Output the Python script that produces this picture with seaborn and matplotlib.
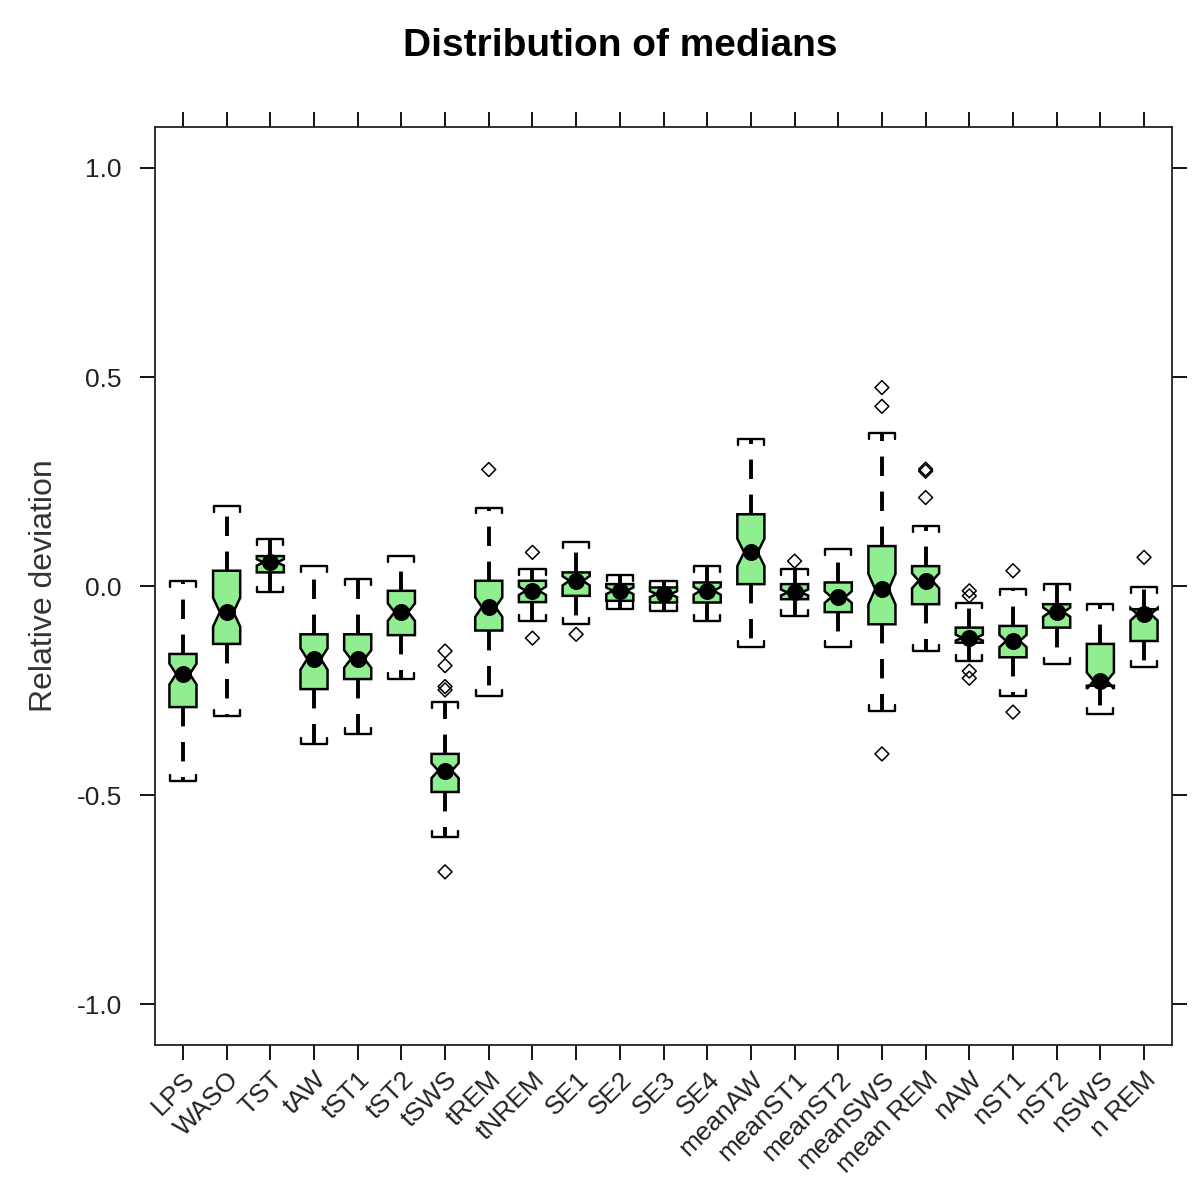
import numpy as np
import pandas as pd
import matplotlib
matplotlib.use("Agg")
import matplotlib.pyplot as plt
import seaborn as sns

# ---------------- data ----------------
categories = ["LPS", "WASO", "TST", "tAW", "tST1", "tST2", "tSWS", "tREM", "tNREM",
              "SE1", "SE2", "SE3", "SE4", "meanAW", "meanST1", "meanST2", "meanSWS",
              "mean REM", "nAW", "nST1", "nST2", "nSWS", "n REM"]

whisker_low = [-0.465, -0.310, -0.015, -0.377, -0.353, -0.222, -0.600, -0.262, -0.083,
               -0.091, -0.055, -0.059, -0.083, -0.146, -0.071, -0.146, -0.298,
               -0.154, -0.178, -0.262, -0.186, -0.305, -0.193]
q1 = [-0.289, -0.138, 0.033, -0.246, -0.222, -0.117, -0.492, -0.106, -0.038,
      -0.023, -0.035, -0.039, -0.039, 0.005, -0.031, -0.062, -0.091,
      -0.043, -0.135, -0.170, -0.099, -0.238, -0.131]
median = [-0.210, -0.062, 0.057, -0.174, -0.174, -0.062, -0.441, -0.050, -0.011,
          0.013, -0.011, -0.019, -0.011, 0.081, -0.015, -0.026, -0.007,
          0.013, -0.123, -0.131, -0.062, -0.226, -0.067]
q3 = [-0.162, 0.037, 0.072, -0.115, -0.115, -0.011, -0.401, 0.013, 0.013,
      0.033, 0.005, -0.003, 0.009, 0.172, 0.005, 0.009, 0.096,
      0.048, -0.099, -0.095, -0.043, -0.138, -0.055]
whisker_high = [0.013, 0.192, 0.112, 0.048, 0.017, 0.072, -0.277, 0.188, 0.041,
                0.105, 0.026, 0.013, 0.048, 0.351, 0.041, 0.088, 0.367,
                0.144, -0.039, -0.007, 0.005, -0.043, -0.003]

outlier_category = ["tSWS", "tSWS", "tSWS", "tSWS", "tSWS", "tREM", "tNREM", "tNREM",
                    "SE1", "meanST1", "meanSWS", "meanSWS", "meanSWS",
                    "mean REM", "mean REM", "mean REM", "nAW", "nAW", "nAW", "nAW",
                    "nST1", "nST1", "n REM"]
outlier_value = [-0.155, -0.190, -0.240, -0.248, -0.683, 0.279, 0.081, -0.124,
                 -0.115, 0.060, 0.475, 0.430, -0.401,
                 0.275, 0.280, 0.212, -0.011, -0.023, -0.203, -0.220,
                 0.037, -0.301, 0.069]

n_per_group = 64  # sample size used for the notch (median CI)

y_ticks = [-1.0, -0.5, 0.0, 0.5, 1.0]
y_ticklabels = ["-1.0", "-0.5", "0.0", "0.5", "1.0"]

# ---------------- style ----------------
sns.set_theme(style="white")
plt.rcParams["font.family"] = ["Liberation Sans", "DejaVu Sans"]

fill_color = "#90EE90"

W, H = 1195, 1184
fig = plt.figure(figsize=(W / 100, H / 100), dpi=100)
ax = fig.add_axes([155 / W, 1 - 1045 / H, (1172 - 155) / W, (1045 - 127) / H])

positions = np.arange(len(categories))
stats = []
for i in range(len(categories)):
    iqr = q3[i] - q1[i]
    half = 1.57 * iqr / np.sqrt(n_per_group)
    stats.append(dict(med=median[i], q1=q1[i], q3=q3[i],
                      whislo=whisker_low[i], whishi=whisker_high[i],
                      cilo=median[i] - half, cihi=median[i] + half, fliers=[]))

box_w = 0.62
ax.bxp(stats, positions=positions, widths=box_w, shownotches=True, patch_artist=True,
       showfliers=False, showcaps=False,
       boxprops=dict(facecolor=fill_color, edgecolor="black", linewidth=1.8),
       whiskerprops=dict(color="black", linewidth=2.8, linestyle=(0, (5, 4))),
       medianprops=dict(linewidth=0))

# bracket-style caps (legs point toward the box)
cap_half = 0.30
leg = 0.014
for i in positions:
    hi = whisker_high[i]
    lo = whisker_low[i]
    ax.plot([i - cap_half, i - cap_half, i + cap_half, i + cap_half],
            [hi - leg, hi, hi, hi - leg], color="black", lw=1.7, zorder=3)
    ax.plot([i - cap_half, i - cap_half, i + cap_half, i + cap_half],
            [lo + leg, lo, lo, lo + leg], color="black", lw=1.7, zorder=3)

# medians as black dots
med_df = pd.DataFrame({"pos": positions, "median": median})
sns.scatterplot(data=med_df, x="pos", y="median", color="black", s=150, marker="o",
                edgecolor="black", linewidth=0, zorder=6, ax=ax, legend=False)

# outliers as open diamonds
cat_index = {c: i for i, c in enumerate(categories)}
out_df = pd.DataFrame({"pos": [cat_index[c] for c in outlier_category],
                       "value": outlier_value})
sns.scatterplot(data=out_df, x="pos", y="value", marker="D", s=50,
                facecolor="none", edgecolor="black", linewidth=1.1,
                zorder=6, ax=ax, legend=False)

# ---------------- axes ----------------
ax.set_xlim(-0.64, len(categories) - 1 + 0.64)
ax.set_ylim(-1.097, 1.098)
ax.set_xticks(positions)
ax.set_xticklabels(categories, rotation=45, ha="right", rotation_mode="anchor",
                   fontsize=19)
ax.set_yticks(y_ticks)
ax.set_yticklabels(y_ticklabels, fontsize=19)
ax.tick_params(axis="both", direction="out", length=11, width=1.3, colors="black",
               top=True, right=True, bottom=True, left=True,
               labeltop=False, labelright=False)
ax.tick_params(axis="y", pad=13)
ax.tick_params(axis="x", pad=5)
for lab in ax.get_yticklabels() + ax.get_xticklabels():
    lab.set_color("#222222")
ax.set_xlabel("")
ax.set_ylabel("Relative deviation", fontsize=23, color="#333333")
ax.yaxis.set_label_coords(-0.094, 0.5)
for sp in ax.spines.values():
    sp.set_visible(True)
    sp.set_color("#222222")
    sp.set_linewidth(1.3)
ax.grid(False)

fig.text(620 / W, 1 - 46 / H, "Distribution of medians", fontsize=28,
         fontweight="bold", ha="center", va="center", color="black")

fig.savefig("out.png", dpi=100, facecolor="white")
